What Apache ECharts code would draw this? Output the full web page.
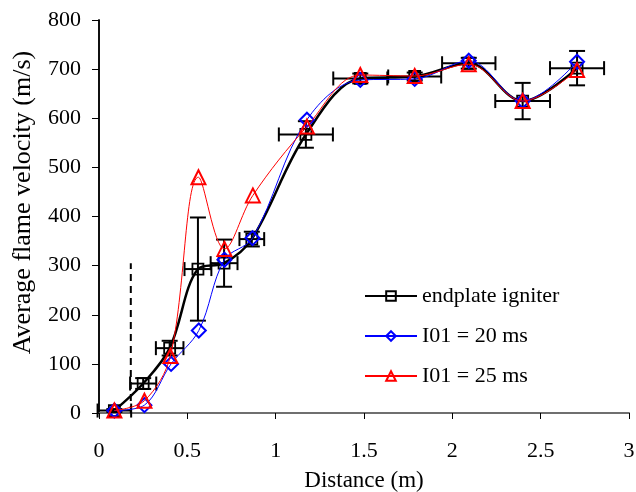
<!DOCTYPE html>
<html>
<head>
<meta charset="utf-8">
<script src="https://cdn.jsdelivr.net/npm/echarts@6/dist/echarts.min.js"></script>
<style>html,body{margin:0;padding:0;background:#fff}#c{width:636px;height:492px}</style>
</head>
<body>
<div id="c"></div>
<script>
const seriesNames = ['endplate igniter', 'I01 = 20 ms', 'I01 = 25 ms'];
const xEndplate = [0.087, 0.25, 0.40, 0.56, 0.708, 0.865, 1.171, 1.479, 1.787, 2.093, 2.398, 2.706];
const yEndplate = [5, 60, 132, 293, 305, 354, 567, 681, 685, 712, 635, 702];
const xErrEndplate = [0.095, 0.074, 0.078, 0.076, 0.076, 0.07, 0.153, 0.153, 0.15, 0.151, 0.155, 0.153];
const yErrEndplate = [3, 11, 15, 105, 48, 15, 27, 10, 8, 11, 37, 35];
const x20 = [0.087, 0.257, 0.408, 0.565, 0.71, 0.869, 1.177, 1.479, 1.787, 2.093, 2.398, 2.706];
const y20 = [5, 16, 100, 168, 312, 356, 597, 678, 680, 717, 635, 715];
const x25 = [0.087, 0.257, 0.404, 0.563, 0.71, 0.871, 1.177, 1.479, 1.787, 2.093, 2.398, 2.706];
const y25 = [5, 25, 116, 480, 334, 443, 583, 688, 686, 710, 635, 698];
const dashX = [0.18, 0.18];
const dashY = [0, 305];
const xTicks = [0, 0.5, 1, 1.5, 2, 2.5, 3];
const yTicks = [0, 100, 200, 300, 400, 500, 600, 700, 800];

const zip = (xs, ys) => xs.map((x, i) => [x, ys[i]]);
const font = 'Liberation Serif';
const chart = echarts.init(document.getElementById('c'));

const errData = xEndplate.map((x, i) => [x, yEndplate[i], xErrEndplate[i], yErrEndplate[i]]);

chart.setOption({
  animation: false,
  grid: { left: 99, right: 7, top: 20, bottom: 79, containLabel: false, outerBoundsMode: 'none' },
  legend: {
    data: seriesNames,
    orient: 'vertical',
    left: 359,
    top: 280,
    itemWidth: 52,
    itemHeight: 12,
    itemGap: 18,
    textStyle: { fontFamily: font, fontSize: 22, color: '#000' }
  },
  xAxis: [{
    type: 'value', min: 0, max: 3, interval: 0.5,
    name: 'Distance (m)', nameLocation: 'middle', nameGap: 56,
    nameTextStyle: { fontFamily: font, fontSize: 23, color: '#000' },
    axisLine: { lineStyle: { color: '#000', width: 1.5 } },
    axisTick: { show: true, inside: false, length: 6, lineStyle: { color: '#000' } },
    axisLabel: { fontFamily: font, fontSize: 22, color: '#000', margin: 27,
      formatter: v => xTicks.includes(v) ? String(v) : '' },
    splitLine: { show: false }
  }, {
    type: 'value', min: 0, max: 3, position: 'top',
    axisLine: { show: true, lineStyle: { color: '#808080', width: 1.5 } },
    axisTick: { show: false }, axisLabel: { show: false }, splitLine: { show: false }
  }],
  yAxis: [{
    type: 'value', min: 0, max: 800, interval: 100,
    name: 'Average flame velocity (m/s)', nameLocation: 'middle', nameGap: 63,
    nameTextStyle: { fontFamily: font, fontSize: 26, color: '#000', padding: [0, 0, 0, 28] },
    axisLine: { show: true, lineStyle: { color: '#000', width: 1.5 } },
    axisTick: { show: true, inside: false, length: 7, lineStyle: { color: '#000' } },
    axisLabel: { fontFamily: font, fontSize: 22, color: '#000', margin: 18,
      formatter: v => yTicks.includes(v) ? String(v) : '' },
    splitLine: { show: false }
  }, {
    type: 'value', min: 0, max: 800, position: 'right',
    axisLine: { show: true, lineStyle: { color: '#000', width: 1.5 } },
    axisTick: { show: false }, axisLabel: { show: false }, splitLine: { show: false }
  }],
  series: [
    {
      name: 'dash', type: 'line', data: zip(dashX, dashY), symbol: 'none',
      lineStyle: { color: '#000', width: 2, type: [7, 5] }, silent: true, z: 1
    },
    {
      name: 'err', type: 'custom', data: errData, z: 2, silent: true,
      renderItem: function (params, api) {
        const x = api.value(0), y = api.value(1), ex = api.value(2), ey = api.value(3);
        const l = api.coord([x - ex, y]), r = api.coord([x + ex, y]);
        const t = api.coord([x, y + ey]), b = api.coord([x, y - ey]);
        const cx = 7, cy = 8;
        const st = { stroke: '#000', lineWidth: 2 };
        return {
          type: 'group',
          children: [
            { type: 'line', shape: { x1: l[0], y1: l[1], x2: r[0], y2: r[1] }, style: st },
            { type: 'line', shape: { x1: l[0], y1: l[1] - cx, x2: l[0], y2: l[1] + cx }, style: st },
            { type: 'line', shape: { x1: r[0], y1: r[1] - cx, x2: r[0], y2: r[1] + cx }, style: st },
            { type: 'line', shape: { x1: t[0], y1: t[1], x2: b[0], y2: b[1] }, style: st },
            { type: 'line', shape: { x1: t[0] - cy, y1: t[1], x2: t[0] + cy, y2: t[1] }, style: st },
            { type: 'line', shape: { x1: b[0] - cy, y1: b[1], x2: b[0] + cy, y2: b[1] }, style: st }
          ]
        };
      }
    },
    {
      name: seriesNames[0], type: 'line', data: zip(xEndplate, yEndplate), smooth: 0.35,
      symbol: 'rect', symbolSize: 11, z: 3,
      lineStyle: { color: '#000', width: 2.5 },
      itemStyle: { color: 'rgba(255,255,255,0)', borderColor: '#000', borderWidth: 1.8 }
    },
    {
      name: seriesNames[1], type: 'line', data: zip(x20, y20), smooth: 0.35,
      symbol: 'diamond', symbolSize: 14, z: 4,
      lineStyle: { color: '#0000ff', width: 1 },
      itemStyle: { color: 'rgba(255,255,255,0)', borderColor: '#0000ff', borderWidth: 2 }
    },
    {
      name: seriesNames[2], type: 'line', data: zip(x25, y25), smooth: 0.35,
      symbol: 'triangle', symbolSize: 14, z: 5,
      lineStyle: { color: '#ff0000', width: 1 },
      itemStyle: { color: 'rgba(255,255,255,0)', borderColor: '#ff0000', borderWidth: 2 }
    }
  ]
});
</script>
</body>
</html>
